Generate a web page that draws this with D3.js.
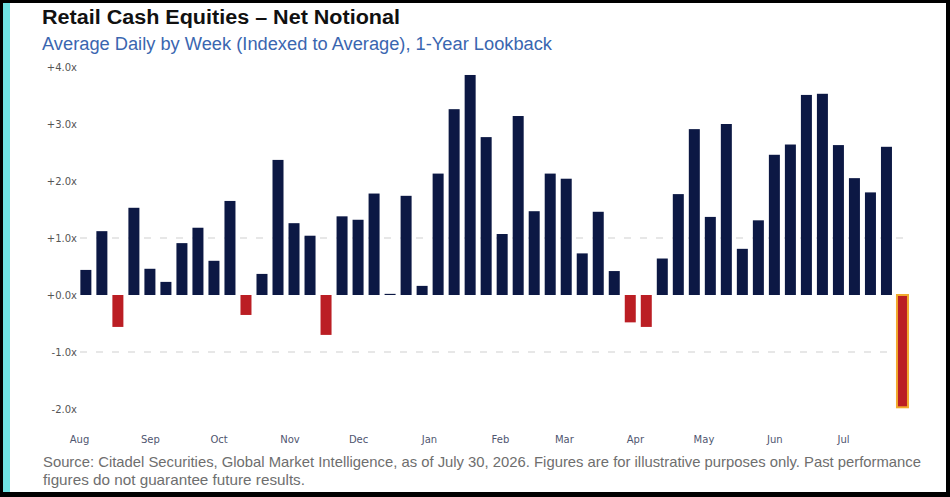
<!DOCTYPE html>
<html>
<head>
<meta charset="utf-8">
<script src="https://cdn.jsdelivr.net/npm/d3@7"></script>
<style>
  body { margin: 0; background: #000; }
  svg { display: block; }
</style>
</head>
<body>
<div id="root"></div>
<script>
const w = 950;
const h = 497;

// week starting dates (Mondays)
const weeks = [
  "2025-08-04", "2025-08-11", "2025-08-18", "2025-08-25",
  "2025-09-01", "2025-09-08", "2025-09-15", "2025-09-22", "2025-09-29",
  "2025-10-06", "2025-10-13", "2025-10-20", "2025-10-27",
  "2025-11-03", "2025-11-10", "2025-11-17", "2025-11-24",
  "2025-12-01", "2025-12-08", "2025-12-15", "2025-12-22", "2025-12-29",
  "2026-01-05", "2026-01-12", "2026-01-19", "2026-01-26",
  "2026-02-02", "2026-02-09", "2026-02-16", "2026-02-23",
  "2026-03-02", "2026-03-09", "2026-03-16", "2026-03-23", "2026-03-30",
  "2026-04-06", "2026-04-13", "2026-04-20", "2026-04-27",
  "2026-05-04", "2026-05-11", "2026-05-18", "2026-05-25",
  "2026-06-01", "2026-06-08", "2026-06-15", "2026-06-22", "2026-06-29",
  "2026-07-06", "2026-07-13", "2026-07-20", "2026-07-27"
];

// net notional, indexed to average
const values = [
  0.44, 1.12, -0.56, 1.53,
  0.46, 0.23, 0.91, 1.18, 0.60,
  1.65, -0.35, 0.37, 2.37,
  1.26, 1.04, -0.70, 1.38,
  1.32, 1.78, 0.02, 1.74, 0.16,
  2.13, 3.26, 3.86, 2.77,
  1.07, 3.14, 1.47, 2.13,
  2.04, 0.73, 1.46, 0.42, -0.48,
  -0.56, 0.64, 1.77, 2.91,
  1.37, 3.00, 0.81, 1.31,
  2.46, 2.64, 3.51, 3.53, 2.63,
  2.05, 1.80, 2.60, -1.97
];

const yTicks = [-2, -1, 0, 1, 2, 3, 4];
const gridTicks = [-1, 1];

const title = "Retail Cash Equities \u2013 Net Notional";
const subtitle = "Average Daily by Week (Indexed to Average), 1-Year Lookback";
const source1 = "Source: Citadel Securities, Global Market Intelligence, as of July 30, 2026. Figures are for illustrative purposes only. Past performance";
const source2 = "figures do not guarantee future results.";

const parse = d3.timeParse("%Y-%m-%d");
const data = weeks.map((d, i) => ({ date: parse(d), value: values[i], last: i === weeks.length - 1 }));

const xScale = d3.scaleTime()
  .domain([new Date(2025, 7, 1), new Date(2026, 6, 1)])
  .range([79, 843]);

const yScale = d3.scaleLinear()
  .domain([-2, 4])
  .range([409, 67]);

const barW = 11;

const svg = d3.select("#root")
  .append("svg")
  .attr("width", w)
  .attr("height", h);

// frame
svg.append("rect").attr("width", w).attr("height", h).attr("fill", "#000");
svg.append("rect").attr("x", 3).attr("y", 3).attr("width", 943).attr("height", 489).attr("fill", "#fff");
svg.append("rect").attr("x", 3).attr("y", 3).attr("width", 7).attr("height", 489).attr("fill", "#6fe2e4");

// title
svg.append("text")
  .attr("x", 42)
  .attr("y", 24)
  .attr("textLength", 358)
  .attr("lengthAdjust", "spacingAndGlyphs")
  .style("font-family", "'Liberation Sans', Arial, sans-serif")
  .style("font-weight", "bold")
  .style("font-size", "20px")
  .style("fill", "#111")
  .text(title);

svg.append("text")
  .attr("x", 42)
  .attr("y", 50)
  .attr("textLength", 510)
  .attr("lengthAdjust", "spacingAndGlyphs")
  .style("font-family", "'Liberation Sans', Arial, sans-serif")
  .style("font-size", "18px")
  .style("fill", "#3a66b0")
  .text(subtitle);

// gridlines
svg.selectAll("line.grid")
  .data(gridTicks)
  .enter()
  .append("line")
  .attr("class", "grid")
  .attr("x1", 80)
  .attr("x2", 905)
  .attr("y1", d => yScale(d))
  .attr("y2", d => yScale(d))
  .attr("stroke", "#cfcfcf")
  .attr("stroke-width", 1)
  .attr("stroke-dasharray", "7,9");

// y-axis
const yAxis = d3.axisLeft(yScale)
  .tickValues(yTicks)
  .tickSize(0)
  .tickPadding(1)
  .tickFormat(d => (d >= 0 ? "+" : "") + d.toFixed(1) + "x");
const yg = svg.append("g")
  .attr("transform", "translate(78, 0)")
  .call(yAxis);
yg.select(".domain").remove();
yg.selectAll("text")
  .style("font-family", "'DejaVu Sans', Verdana, sans-serif")
  .style("font-size", "10px")
  .style("fill", "#555");

// x-axis
const xAxis = d3.axisBottom(xScale)
  .ticks(d3.timeMonth.every(1))
  .tickSize(0)
  .tickPadding(3)
  .tickFormat(d3.timeFormat("%b"));
const xg = svg.append("g")
  .attr("transform", "translate(0, 433)")
  .call(xAxis);
xg.select(".domain").remove();
xg.selectAll("text")
  .style("font-family", "'DejaVu Sans', Verdana, sans-serif")
  .style("font-size", "10px")
  .style("fill", "#505670");

// bars
svg.selectAll("rect.bar")
  .data(data)
  .enter()
  .append("rect")
  .attr("class", "bar")
  .attr("x", d => xScale(d.date) - barW / 2)
  .attr("y", d => yScale(Math.max(0, d.value)))
  .attr("width", barW)
  .attr("height", d => Math.abs(yScale(d.value) - yScale(0)))
  .attr("fill", d => d.value < 0 ? "#bb1e24" : "#0c1844")
  .attr("stroke", d => d.last ? "#f2aa2e" : "none")
  .attr("stroke-width", d => d.last ? 2 : 0);

// source notes
svg.append("text")
  .attr("x", 43)
  .attr("y", 467)
  .attr("textLength", 878)
  .attr("lengthAdjust", "spacingAndGlyphs")
  .style("font-family", "'Liberation Sans Narrow', 'Arial Narrow', 'Liberation Sans', sans-serif")
  .style("font-size", "15px")
  .style("fill", "#6e6e6e")
  .text(source1);

svg.append("text")
  .attr("x", 43)
  .attr("y", 485)
  .attr("textLength", 262)
  .attr("lengthAdjust", "spacingAndGlyphs")
  .style("font-family", "'Liberation Sans Narrow', 'Arial Narrow', 'Liberation Sans', sans-serif")
  .style("font-size", "15px")
  .style("fill", "#6e6e6e")
  .text(source2);
</script>
</body>
</html>
